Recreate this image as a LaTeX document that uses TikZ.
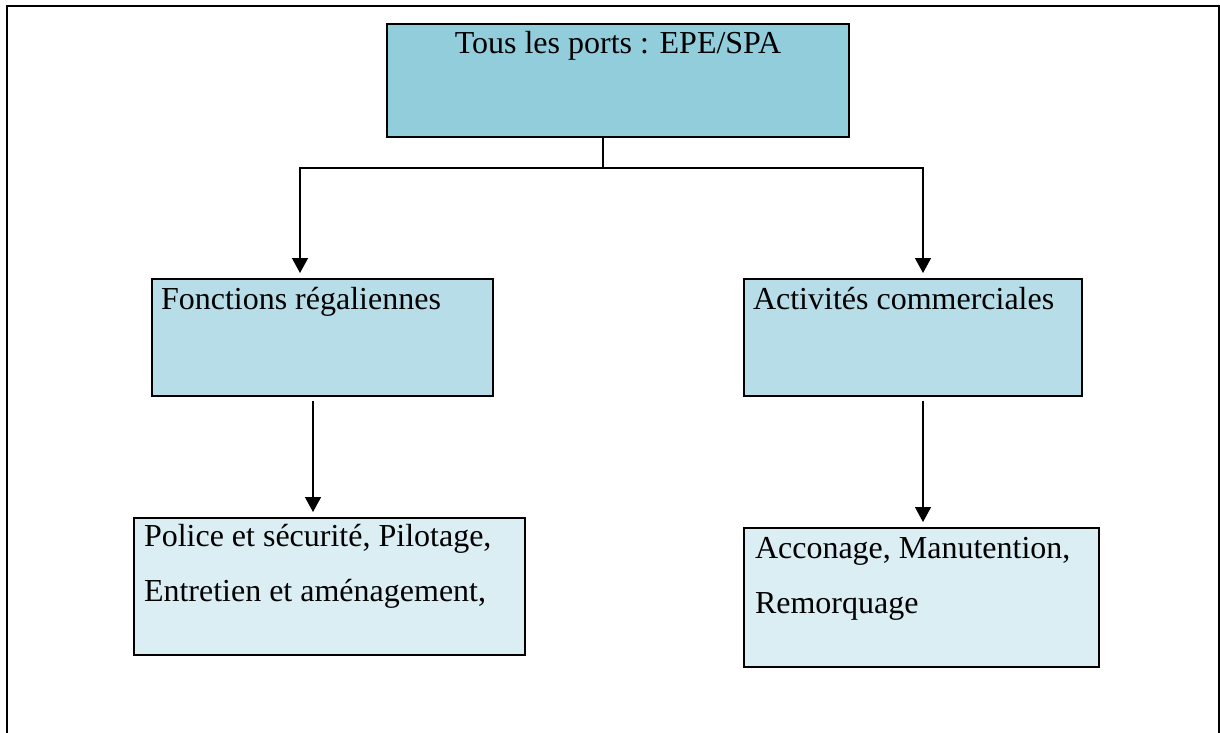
\documentclass[tikz,border=0pt]{standalone}
\usepackage{fontspec}
\setmainfont{Liberation Serif}
\usetikzlibrary{arrows.meta}
\definecolor{cA}{HTML}{92CDDC}
\definecolor{cB}{HTML}{B7DDE8}
\definecolor{cC}{HTML}{DAEEF3}
\tikzset{
  box/.style={draw, line width=2pt, inner sep=0pt, anchor=north west},
  conn/.style={line width=1.4pt},
  arr/.style={conn, -{Triangle[width=16pt,length=15pt]}, shorten >=5pt},
  framestyle/.style={line width=2.4pt},
}
\newcommand{\boxtxt}[5]{\begin{minipage}[t][#2][t]{#1}\fontsize{32}{55}\selectfont\parindent=0pt\leftskip=#3\relax\rule{0pt}{#4}#5\end{minipage}}
\begin{document}
\begin{tikzpicture}[x=1pt,y=-1pt]
\useasboundingbox (0,0) rectangle (1220,733);
\draw[framestyle] (7,733) -- (7,6) -- (1219,6) -- (1219,733);

\node[box, fill=cA] (top) at (386,23)
  {\begin{minipage}[t][113pt][t]{462pt}\centering\fontsize{32}{55}\selectfont\rule{0pt}{30pt}Tous les ports : EPE/SPA\end{minipage}};
\node[box, fill=cB] (fr) at (151,278) {\boxtxt{341pt}{117pt}{9pt}{30pt}{Fonctions régaliennes}};
\node[box, fill=cB] (ac) at (743,278) {\boxtxt{338pt}{117pt}{9pt}{30pt}{Activités commerciales}};
\node[box, fill=cC] (po) at (133,517) {\boxtxt{391pt}{137pt}{10pt}{28pt}{Police et sécurité, Pilotage,\par Entretien et aménagement,}};
\node[box, fill=cC] (cm) at (743,527) {\boxtxt{355pt}{139pt}{11pt}{30pt}{Acconage, Manutention,\par Remorquage}};

\coordinate (j) at (603,168);
\coordinate (jl) at (300,168);
\coordinate (jr) at (923,168);
\coordinate (la) at (313,401);
\coordinate (ra) at (923,401);
\draw[conn] (top.south -| j) -- (j);
\draw[arr] (j) -- (jl) -- (jl |- fr.north);
\draw[arr] (j) -- (jr) -- (jr |- ac.north);
\draw[arr] (la) -- (la |- po.north);
\draw[arr] (ra) -- (ra |- cm.north);
\end{tikzpicture}
\end{document}
